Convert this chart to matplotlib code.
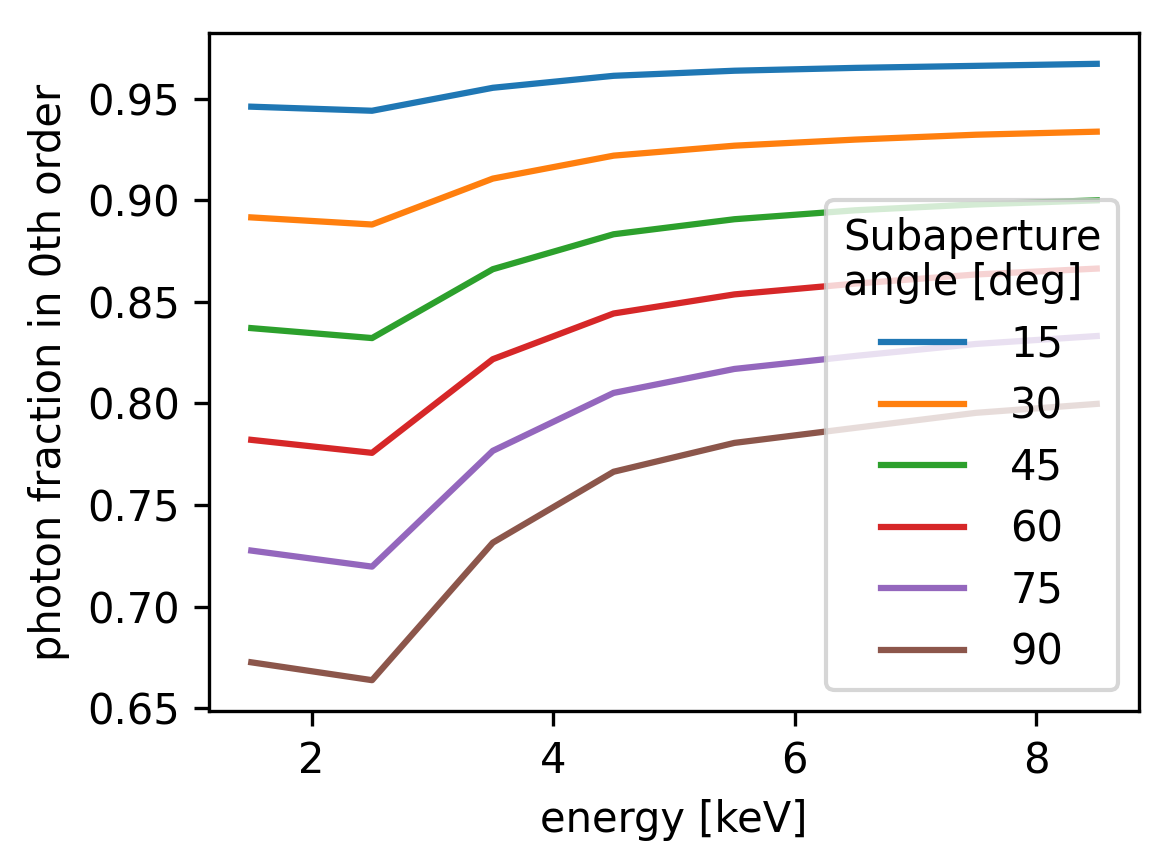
import numpy as np
import matplotlib
matplotlib.use('Agg')
import matplotlib.pyplot as plt

energy = [1.5, 2.5, 3.5, 4.5, 5.5, 6.5, 7.5, 8.5]
angles = [15, 30, 45, 60, 75, 90]

frac_15 = [0.9461, 0.9441, 0.9554, 0.9613, 0.9638, 0.9652, 0.9662, 0.9672]
frac_30 = [0.8916, 0.8881, 0.9107, 0.9220, 0.9269, 0.9299, 0.9323, 0.9338]
frac_45 = [0.8371, 0.8322, 0.8661, 0.8833, 0.8907, 0.8951, 0.8980, 0.9000]
frac_60 = [0.7821, 0.7757, 0.8218, 0.8443, 0.8537, 0.8590, 0.8635, 0.8664]
frac_75 = [0.7276, 0.7197, 0.7767, 0.8052, 0.8170, 0.8234, 0.8293, 0.8332]
frac_90 = [0.6726, 0.6638, 0.7315, 0.7664, 0.7806, 0.7880, 0.7954, 0.7998]

fractions = [frac_15, frac_30, frac_45, frac_60, frac_75, frac_90]

fig = plt.figure(figsize=(1172 / 300, 868 / 300), dpi=300)
ax = fig.add_axes([209 / 1172, 1 - 711 / 868, (1139 - 209) / 1172, (711 - 33) / 868])

for ang, frac in zip(angles, fractions):
    ax.plot(energy, frac, label=str(ang))

ax.set_xlabel('energy [keV]')
ax.set_ylabel('photon fraction in 0th order')
leg = ax.legend(title='Subaperture\nangle [deg]', loc='lower right',
                labelspacing=0.47, handletextpad=1.1)
leg.get_title().set_linespacing(1.1)

fig.savefig('out.png', dpi=300)
